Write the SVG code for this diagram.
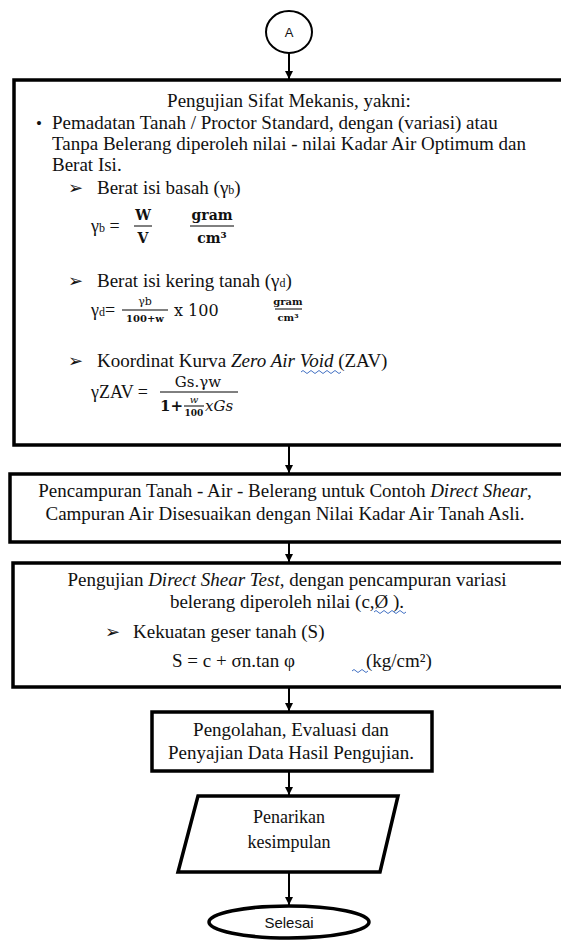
<svg xmlns="http://www.w3.org/2000/svg" width="561" height="947" viewBox="0 0 561 947">
<defs>
<style>
.t{font-family:"Liberation Serif","Times New Roman",serif;font-size:19px;fill:#111}
.it{font-style:italic}
.m{font-family:"DejaVu Serif",serif;fill:#111}
.s{font-family:"Liberation Sans",Arial,sans-serif;fill:#111}
.ar{font-family:"DejaVu Sans",sans-serif;font-size:18px;fill:#111}
.box{fill:#fff;stroke:#000;stroke-width:3.5}
.thin{fill:none;stroke:#000;stroke-width:2}
.fr{stroke:#000;stroke-width:1}
.sq{fill:none;stroke:#4472c4;stroke-width:1}
.con{stroke:#000;stroke-width:2;fill:none}
</style>
<marker id="ah" markerWidth="10" markerHeight="10" refX="8" refY="5" orient="auto" markerUnits="userSpaceOnUse">
<path d="M0,1 L8,5 L0,9 Z" fill="#000"/>
</marker>
</defs>
<rect width="561" height="947" fill="#fff"/>

<g id="connectors">
<line class="con" x1="289" y1="53" x2="289" y2="79" marker-end="url(#ah)"/>
<line class="con" x1="289" y1="446" x2="289" y2="473" marker-end="url(#ah)"/>
<line class="con" x1="289" y1="543" x2="289" y2="562" marker-end="url(#ah)"/>
<line class="con" x1="289" y1="688" x2="289" y2="711" marker-end="url(#ah)"/>
<line class="con" x1="289" y1="772" x2="289" y2="795" marker-end="url(#ah)"/>
<line class="con" x1="289" y1="873" x2="289" y2="905" marker-end="url(#ah)"/>
</g>

<g id="start">
<ellipse class="thin" cx="289" cy="32" rx="23" ry="21" fill="#fff"/>
<text class="s" x="289" y="37" font-size="13" text-anchor="middle">A</text>
</g>

<g id="box1">
<rect class="box" x="14" y="80" width="560" height="365"/>
<text class="t" x="289" y="107" text-anchor="middle">Pengujian Sifat Mekanis, yakni:</text>
<text class="t" x="36" y="129" style="font-size:17px">•</text>
<text class="t" x="52" y="129">Pemadatan Tanah / Proctor Standard, dengan (variasi) atau</text>
<text class="t" x="52" y="150">Tanpa Belerang diperoleh nilai - nilai Kadar Air Optimum dan</text>
<text class="t" x="52" y="171">Berat Isi.</text>
<text class="ar" x="68" y="194">➢</text>
<text class="t" x="97" y="194">Berat isi basah (γ<tspan style="font-size:12px">b</tspan>)</text>
<text class="t" x="91" y="232" style="font-size:18px">γ<tspan style="font-size:12px">b</tspan> =</text>
<text class="m" x="143" y="220" font-size="14" font-weight="bold" text-anchor="middle">W</text>
<line class="fr" x1="134" y1="226" x2="152" y2="226"/>
<text class="m" x="143" y="243" font-size="14" font-weight="bold" text-anchor="middle">V</text>
<text class="m" x="212" y="220" font-size="14" font-weight="bold" text-anchor="middle">gram</text>
<line class="fr" x1="190" y1="226" x2="234" y2="226"/>
<text class="m" x="212" y="243" font-size="14" font-weight="bold" text-anchor="middle">cm³</text>
<text class="ar" x="68" y="287">➢</text>
<text class="t" x="97" y="287">Berat isi kering tanah (γ<tspan style="font-size:12px">d</tspan>)</text>
<text class="t" x="91" y="316" style="font-size:18px">γ<tspan style="font-size:12px">d</tspan>=</text>
<text class="m" x="145" y="305" font-size="11" text-anchor="middle">γb</text>
<line class="fr" x1="122" y1="310" x2="168" y2="310"/>
<text class="m" x="145" y="322" font-size="10" font-weight="bold" text-anchor="middle">100+w</text>
<text class="m" x="174" y="316" font-size="16">x 100</text>
<text class="m" x="288" y="305" font-size="10" font-weight="bold" text-anchor="middle">gram</text>
<line class="fr" x1="275" y1="309" x2="302" y2="309"/>
<text class="m" x="288" y="321" font-size="10" font-weight="bold" text-anchor="middle">cm³</text>
<text class="ar" x="68" y="367">➢</text>
<text class="t" x="97" y="367">Koordinat Kurva <tspan class="it">Zero Air Void </tspan>(ZAV)</text>
<path class="sq" d="M301,372 q2,-3 4,0 q2,3 4,0 q2,-3 4,0 q2,3 4,0 q2,-3 4,0 q2,3 4,0 q2,-3 4,0 q2,3 4,0 q2,-3 4,0 q2,3 4,0"/>
<text class="t" x="91" y="398" style="font-size:18px">γZAV =</text>
<text class="m" x="198" y="387" font-size="15" text-anchor="middle">Gs.γw</text>
<line class="fr" x1="160" y1="392" x2="238" y2="392"/>
<text class="m" x="160" y="411" font-size="15" font-weight="bold">1+</text>
<text class="m" x="194" y="403" font-size="10" font-style="italic" text-anchor="middle">w</text>
<line class="fr" x1="184" y1="406" x2="204" y2="406"/>
<text class="m" x="194" y="416" font-size="9" font-weight="bold" text-anchor="middle">100</text>
<text class="m" x="205" y="411" font-size="15" font-style="italic">xGs</text>
</g>

<g id="box2">
<rect class="box" x="10" y="474" width="565" height="68"/>
<text class="t" x="285" y="497" text-anchor="middle">Pencampuran Tanah - Air - Belerang untuk Contoh <tspan class="it">Direct Shear</tspan>,</text>
<text class="t" x="285" y="520" text-anchor="middle">Campuran Air Disesuaikan dengan Nilai Kadar Air Tanah Asli.</text>
</g>

<g id="box3">
<rect class="box" x="13" y="563" width="565" height="124"/>
<text class="t" x="287" y="586" text-anchor="middle">Pengujian <tspan class="it">Direct Shear Test</tspan>, dengan pencampuran variasi</text>
<text class="t" x="287" y="608" text-anchor="middle">belerang diperoleh nilai (c,Ø ).</text>
<path class="sq" d="M374,612 q2,-3 4,0 q2,3 4,0 q2,-3 4,0 q2,3 4,0 q2,-3 4,0 q2,3 4,0 q2,-3 4,0 q2,3 4,0"/>
<text class="ar" x="105" y="638">➢</text>
<text class="t" x="133" y="638">Kekuatan geser tanah (S)</text>
<text class="t" x="172" y="667">S = c + σn.tan φ</text>
<path class="sq" d="M352,671 q2,-3 4,0 q2,3 4,0 q2,-3 4,0 q2,3 4,0"/>
<text class="t" x="366" y="667">(kg/cm²)</text>
</g>

<g id="box4">
<rect class="box" x="152" y="712" width="280" height="59"/>
<text class="t" x="291" y="736" text-anchor="middle">Pengolahan, Evaluasi dan</text>
<text class="t" x="291" y="759" text-anchor="middle">Penyajian Data Hasil Pengujian.</text>
</g>

<g id="conclusion">
<polygon class="box" points="198,796 398,796 380,872 178,872"/>
<text class="t" x="289" y="823" style="font-size:18px" text-anchor="middle">Penarikan</text>
<text class="t" x="289" y="848" style="font-size:18px" text-anchor="middle">kesimpulan</text>
</g>

<g id="end">
<ellipse class="box" cx="289" cy="922" rx="80" ry="16"/>
<text class="s" x="289" y="928" font-size="15" text-anchor="middle">Selesai</text>
</g>
</svg>
